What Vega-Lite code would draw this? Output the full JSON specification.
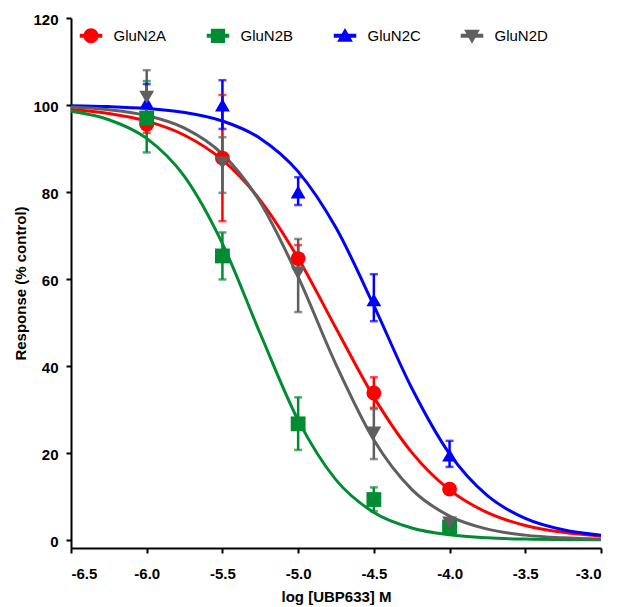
{
  "$schema": "https://vega.github.io/schema/vega-lite/v6.json",
  "width": 530,
  "height": 530,
  "autosize": "none",
  "padding": {"left": 71, "top": 18, "right": 18, "bottom": 59},
  "background": "white",
  "config": {
    "view": {"stroke": null},
    "axis": {
      "grid": false,
      "domainColor": "black",
      "domainWidth": 2,
      "tickColor": "black",
      "tickWidth": 2,
      "tickSize": 5,
      "labelFont": "Liberation Sans",
      "labelFontWeight": "bold",
      "labelFontSize": 15,
      "labelColor": "black",
      "titleFont": "Liberation Sans",
      "titleFontWeight": "bold",
      "titleFontSize": 15,
      "titleColor": "black"
    }
  },
  "resolve": {"legend": {"color": "independent"}},
  "datasets": {
    "curves": [
      {"series": "GluN2A", "logc": -6.5, "resp": 98.99},
      {"series": "GluN2A", "logc": -6.25, "resp": 98.05},
      {"series": "GluN2A", "logc": -6.0, "resp": 96.29},
      {"series": "GluN2A", "logc": -5.75, "resp": 93.05},
      {"series": "GluN2A", "logc": -5.5, "resp": 87.36},
      {"series": "GluN2A", "logc": -5.25, "resp": 78.09},
      {"series": "GluN2A", "logc": -5.0, "resp": 64.78},
      {"series": "GluN2A", "logc": -4.75, "resp": 48.68},
      {"series": "GluN2A", "logc": -4.5, "resp": 32.85},
      {"series": "GluN2A", "logc": -4.25, "resp": 20.15},
      {"series": "GluN2A", "logc": -4.0, "resp": 11.52},
      {"series": "GluN2A", "logc": -3.75, "resp": 6.29},
      {"series": "GluN2A", "logc": -3.5, "resp": 3.35},
      {"series": "GluN2A", "logc": -3.25, "resp": 1.76},
      {"series": "GluN2A", "logc": -3.0, "resp": 0.91},
      {"series": "GluN2B", "logc": -6.5, "resp": 98.54},
      {"series": "GluN2B", "logc": -6.25, "resp": 96.61},
      {"series": "GluN2B", "logc": -6.0, "resp": 92.32},
      {"series": "GluN2B", "logc": -5.75, "resp": 83.53},
      {"series": "GluN2B", "logc": -5.5, "resp": 68.13},
      {"series": "GluN2B", "logc": -5.25, "resp": 47.41},
      {"series": "GluN2B", "logc": -5.0, "resp": 27.55},
      {"series": "GluN2B", "logc": -4.75, "resp": 13.82},
      {"series": "GluN2B", "logc": -4.5, "resp": 6.33},
      {"series": "GluN2B", "logc": -4.25, "resp": 2.77},
      {"series": "GluN2B", "logc": -4.0, "resp": 1.19},
      {"series": "GluN2B", "logc": -3.75, "resp": 0.5},
      {"series": "GluN2B", "logc": -3.5, "resp": 0.21},
      {"series": "GluN2B", "logc": -3.25, "resp": 0.09},
      {"series": "GluN2B", "logc": -3.0, "resp": 0.04},
      {"series": "GluN2C", "logc": -6.5, "resp": 99.83},
      {"series": "GluN2C", "logc": -6.25, "resp": 99.63},
      {"series": "GluN2C", "logc": -6.0, "resp": 99.2},
      {"series": "GluN2C", "logc": -5.75, "resp": 98.27},
      {"series": "GluN2C", "logc": -5.5, "resp": 96.32},
      {"series": "GluN2C", "logc": -5.25, "resp": 92.32},
      {"series": "GluN2C", "logc": -5.0, "resp": 84.68},
      {"series": "GluN2C", "logc": -4.75, "resp": 71.76},
      {"series": "GluN2C", "logc": -4.5, "resp": 53.87},
      {"series": "GluN2C", "logc": -4.25, "resp": 34.94},
      {"series": "GluN2C", "logc": -4.0, "resp": 19.8},
      {"series": "GluN2C", "logc": -3.75, "resp": 10.19},
      {"series": "GluN2C", "logc": -3.5, "resp": 4.96},
      {"series": "GluN2C", "logc": -3.25, "resp": 2.34},
      {"series": "GluN2C", "logc": -3.0, "resp": 1.09},
      {"series": "GluN2D", "logc": -6.5, "resp": 99.52},
      {"series": "GluN2D", "logc": -6.25, "resp": 98.91},
      {"series": "GluN2D", "logc": -6.0, "resp": 97.58},
      {"series": "GluN2D", "logc": -5.75, "resp": 94.67},
      {"series": "GluN2D", "logc": -5.5, "resp": 88.7},
      {"series": "GluN2D", "logc": -5.25, "resp": 77.6},
      {"series": "GluN2D", "logc": -5.0, "resp": 60.48},
      {"series": "GluN2D", "logc": -4.75, "resp": 40.32},
      {"series": "GluN2D", "logc": -4.5, "resp": 22.97},
      {"series": "GluN2D", "logc": -4.25, "resp": 11.64},
      {"series": "GluN2D", "logc": -4.0, "resp": 5.5},
      {"series": "GluN2D", "logc": -3.75, "resp": 2.5},
      {"series": "GluN2D", "logc": -3.5, "resp": 1.12},
      {"series": "GluN2D", "logc": -3.25, "resp": 0.5},
      {"series": "GluN2D", "logc": -3.0, "resp": 0.22}
    ],
    "points": [
      {"series": "GluN2A", "logc": -6.0, "resp": 95.6, "lo": 93.6, "hi": 97.6},
      {"series": "GluN2A", "logc": -5.5, "resp": 87.8, "lo": 73.3, "hi": 102.3},
      {"series": "GluN2A", "logc": -5.0, "resp": 64.7, "lo": 61.6, "hi": 67.8},
      {"series": "GluN2A", "logc": -4.5, "resp": 33.8, "lo": 30.4, "hi": 37.4},
      {"series": "GluN2A", "logc": -4.0, "resp": 11.7, "lo": 10.7, "hi": 12.7},
      {"series": "GluN2B", "logc": -6.0, "resp": 97.0, "lo": 89.1, "hi": 105.5},
      {"series": "GluN2B", "logc": -5.5, "resp": 65.3, "lo": 59.9, "hi": 70.7},
      {"series": "GluN2B", "logc": -5.0, "resp": 26.7, "lo": 20.7, "hi": 32.8},
      {"series": "GluN2B", "logc": -4.5, "resp": 9.3, "lo": 6.6, "hi": 12.1},
      {"series": "GluN2B", "logc": -4.0, "resp": 3.0, "lo": 2.0, "hi": 4.0},
      {"series": "GluN2C", "logc": -6.0, "resp": 100.5, "lo": 96.2, "hi": 104.8},
      {"series": "GluN2C", "logc": -5.5, "resp": 100.0, "lo": 94.5, "hi": 105.7},
      {"series": "GluN2C", "logc": -5.0, "resp": 80.0, "lo": 77.0, "hi": 83.4},
      {"series": "GluN2C", "logc": -4.5, "resp": 55.2, "lo": 50.3, "hi": 61.1},
      {"series": "GluN2C", "logc": -4.0, "resp": 19.5, "lo": 16.8, "hi": 22.8},
      {"series": "GluN2D", "logc": -6.0, "resp": 101.8, "lo": 95.5, "hi": 108.0},
      {"series": "GluN2D", "logc": -5.5, "resp": 86.7, "lo": 79.8, "hi": 92.6},
      {"series": "GluN2D", "logc": -5.0, "resp": 61.4, "lo": 52.4, "hi": 69.2},
      {"series": "GluN2D", "logc": -4.5, "resp": 24.6, "lo": 18.6, "hi": 30.1},
      {"series": "GluN2D", "logc": -4.0, "resp": 3.9, "lo": 2.9, "hi": 4.9}
    ]
  },
  "layer": [
    {
      "data": {"name": "curves"},
      "mark": {"type": "line", "strokeWidth": 3, "interpolate": "monotone"},
      "encoding": {
        "x": {
          "field": "logc",
          "type": "quantitative",
          "scale": {"domain": [-6.5, -3.0], "nice": false, "zero": false},
          "axis": {
            "title": "log [UBP633] M",
            "values": [-6.5, -6.0, -5.5, -5.0, -4.5, -4.0, -3.5, -3.0],
            "labelExpr": "replace(format(datum.value, '.1f'), '\u2212', '-')",
            "labelPadding": 13,
            "titleBaseline": "alphabetic",
            "titleY": 53
          }
        },
        "y": {
          "field": "resp",
          "type": "quantitative",
          "scale": {"domain": [-1.84, 120], "nice": false, "zero": false},
          "axis": {
            "title": "Response (% control)",
            "values": [0, 20, 40, 60, 80, 100, 120],
            "labelPadding": 8,
            "labelOffset": 1.5,
            "titleAngle": -90,
            "titleBaseline": "alphabetic",
            "titleX": -45.5,
            "titleY": 265
          }
        },
        "color": {
          "field": "series",
          "type": "nominal",
          "scale": {
            "domain": ["GluN2A", "GluN2B", "GluN2C", "GluN2D"],
            "range": ["#FF0000", "#008C32", "#0000FF", "#5F5F5F"]
          },
          "legend": {
            "title": null,
            "orient": "none",
            "direction": "horizontal",
            "legendX": 12.5,
            "legendY": 10,
            "gridAlign": "all",
            "columnPadding": 39,
            "symbolSize": 225,
            "symbolStrokeWidth": 0,
            "labelFont": "Liberation Sans",
            "labelFontSize": 15,
            "labelColor": "black",
            "labelOffset": 15,
            "encode": {
              "symbols": {
                "update": {
                  "fill": {"signal": "scale('color', datum.value)"},
                  "stroke": {"value": "transparent"},
                  "strokeWidth": {"value": 0},
                  "opacity": {"value": 1},
                  "shape": {
                    "signal": "datum.value === 'GluN2A' ? 'M-1.5,-0.27H1.5V0.27H-1.5Z M1,0A1,1 0 1,1 -1,0A1,1 0 1,1 1,0Z' : datum.value === 'GluN2B' ? 'M-1.5,-0.27H1.5V0.27H-1.5Z M-0.95,-0.95H0.95V0.95H-0.95Z' : datum.value === 'GluN2C' ? 'M-1.5,-0.27H1.5V0.27H-1.5Z M0,-1.05L1.05,0.8H-1.05Z' : 'M-1.5,-0.27H1.5V0.27H-1.5Z M-1.05,-0.8H1.05L0,1.05Z'"
                  }
                }
              }
            }
          }
        }
      }
    },
    {
      "data": {"name": "points"},
      "mark": {"type": "rule", "strokeWidth": 2.5},
      "encoding": {
        "x": {"field": "logc", "type": "quantitative"},
        "y": {"field": "lo", "type": "quantitative"},
        "y2": {"field": "hi"},
        "color": {"field": "series", "type": "nominal", "legend": null}
      }
    },
    {
      "data": {"name": "points"},
      "mark": {"type": "tick", "orient": "horizontal", "size": 8, "thickness": 2.5},
      "encoding": {
        "x": {"field": "logc", "type": "quantitative"},
        "y": {"field": "lo", "type": "quantitative"},
        "color": {"field": "series", "type": "nominal", "legend": null}
      }
    },
    {
      "data": {"name": "points"},
      "mark": {"type": "tick", "orient": "horizontal", "size": 8, "thickness": 2.5},
      "encoding": {
        "x": {"field": "logc", "type": "quantitative"},
        "y": {"field": "hi", "type": "quantitative"},
        "color": {"field": "series", "type": "nominal", "legend": null}
      }
    },
    {
      "data": {"name": "points"},
      "mark": {"type": "point", "filled": true, "opacity": 1, "size": 220, "strokeWidth": 0},
      "encoding": {
        "x": {"field": "logc", "type": "quantitative"},
        "y": {"field": "resp", "type": "quantitative"},
        "color": {"field": "series", "type": "nominal", "legend": null},
        "shape": {
          "field": "series",
          "type": "nominal",
          "scale": {
            "domain": ["GluN2A", "GluN2B", "GluN2C", "GluN2D"],
            "range": ["circle", "square", "triangle-up", "triangle-down"]
          },
          "legend": null
        }
      }
    }
  ]
}
